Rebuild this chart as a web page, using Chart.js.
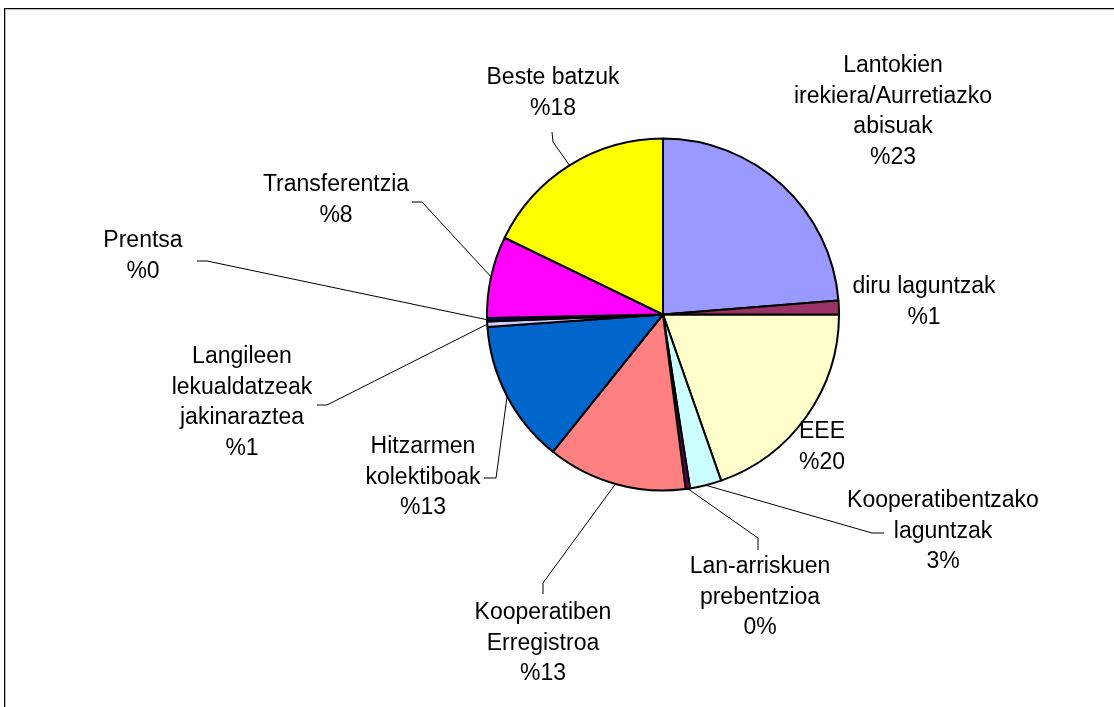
<!DOCTYPE html>
<html>
<head>
<meta charset="utf-8">
<title>Pie</title>
<script src="https://cdn.jsdelivr.net/npm/chart.js@4.4.1/dist/chart.umd.min.js"></script>
<style>
  html, body { margin: 0; padding: 0; background: #fff; }
  #wrap { position: relative; width: 1114px; height: 707px; overflow: hidden; }
  #frame {
    position: absolute; left: 4px; top: 8px; width: 1200px; height: 800px;
    border: 1px solid #000; box-shadow: 1px 1px 0 #bbb inset;
  }
  #pie { position: absolute; left: 0; top: 0; }
</style>
</head>
<body>
<div id="wrap">
  <div id="frame"></div>
  <canvas id="pie" width="1114" height="707"></canvas>
</div>
<script>
// categories (text lines of each label), clockwise from 12 o'clock
const categories = [
  ["Lantokien", "irekiera/Aurretiazko", "abisuak"],
  ["diru laguntzak"],
  ["EEE"],
  ["Kooperatibentzako", "laguntzak"],
  ["Lan-arriskuen", "prebentzioa"],
  ["Kooperatiben", "Erregistroa"],
  ["Hitzarmen", "kolektiboak"],
  ["Langileen", "lekualdatzeak", "jakinaraztea"],
  ["Prentsa"],
  ["Transferentzia"],
  ["Beste batzuk"]
];
const shares = [23.7, 1.3, 19.6, 2.9, 0.4, 12.8, 13.1, 0.5, 0.3, 7.5, 17.8];
const percentLabels = ["%23", "%1", "%20", "3%", "0%", "%13", "%13", "%1", "%0", "%8", "%18"];

// colores de las porciones
const sliceColors = [
  "#9999FF", "#993366", "#FFFFCC", "#CCFFFF", "#660066", "#FF8080",
  "#0066CC", "#CCCCFF", "#000080", "#FF00FF", "#FFFF00"
];

// where each label sits (center of first text line) and the bend points of its leader line
const labelPlacement = [
  { x: 893, y: 66,  leader: [] },
  { x: 924, y: 287, leader: [] },
  { x: 822, y: 432, leader: [] },
  { x: 943, y: 501, leader: [[872, 533], [884, 533]] },
  { x: 760, y: 567, leader: [[758, 538], [758, 550]] },
  { x: 543, y: 613, leader: [[543, 583], [543, 594]] },
  { x: 423, y: 447, leader: [[496, 478], [484, 478]] },
  { x: 242, y: 357, leader: [[327, 405], [317, 405]] },
  { x: 143, y: 241, leader: [[207, 261], [197, 261]] },
  { x: 336, y: 185, leader: [[422, 202], [412, 202]] },
  { x: 553, y: 78,  leader: [[553, 142], [552, 132]] }
];
const LINE_H = 30.5;
const FONT = '23px "Liberation Sans", Arial, sans-serif';

const pieLabels = {
  id: "pieLabels",
  afterDatasetsDraw(chart) {
    const ctx = chart.ctx;
    const arcs = chart.getDatasetMeta(0).data;
    ctx.save();
    ctx.strokeStyle = "#000";
    ctx.lineWidth = 1;
    arcs.forEach((arc, i) => {
      const p = labelPlacement[i];
      if (p.leader.length) {
        const mid = (arc.startAngle + arc.endAngle) / 2;
        ctx.beginPath();
        ctx.moveTo(arc.x + Math.cos(mid) * arc.outerRadius, arc.y + Math.sin(mid) * arc.outerRadius);
        p.leader.forEach(([lx, ly]) => ctx.lineTo(lx, ly));
        ctx.stroke();
      }
    });
    ctx.fillStyle = "#000";
    ctx.font = FONT;
    ctx.textAlign = "center";
    ctx.textBaseline = "middle";
    categories.forEach((lines, i) => {
      const p = labelPlacement[i];
      const all = lines.concat([percentLabels[i]]);
      all.forEach((t, k) => ctx.fillText(t, p.x, p.y + k * LINE_H));
    });
    ctx.restore();
  }
};

new Chart(document.getElementById("pie"), {
  type: "pie",
  data: {
    labels: categories.map((c) => c.join(" ")),
    datasets: [{
      data: shares,
      backgroundColor: sliceColors,
      borderColor: "#000",
      borderWidth: 2,
      radius: 176
    }]
  },
  options: {
    responsive: false,
    animation: false,
    layout: { padding: { left: 487, right: 275, top: 139, bottom: 217 } },
    plugins: { legend: { display: false }, tooltip: { enabled: false } }
  },
  plugins: [pieLabels]
});
</script>
</body>
</html>
